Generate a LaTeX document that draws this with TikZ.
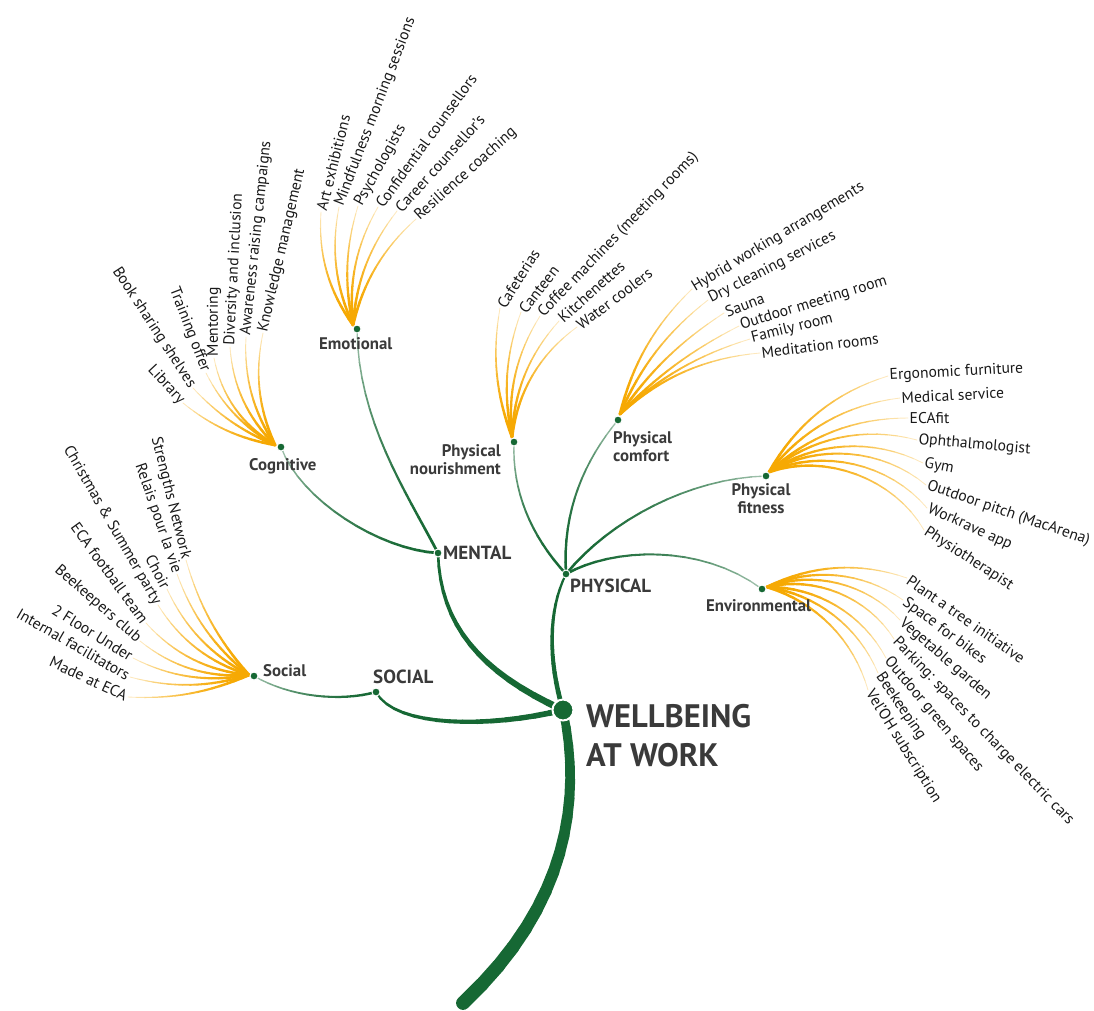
\documentclass[tikz,border=0pt]{standalone}
\usepackage{fontspec}
\setmainfont{PT Sans}
\usetikzlibrary{calc}
\definecolor{grn}{RGB}{22,104,52}
\definecolor{fanY}{RGB}{246,168,0}
\definecolor{lbl}{RGB}{58,58,58}
\definecolor{leafc}{RGB}{25,25,25}
% tapered, fading cubic curve: start, c1, c2, end, w0, w1, colour, end-percent
\newcommand\wbtaper[8]{%
  \coordinate (bp0) at #1;
  \coordinate (bp1) at #2;
  \coordinate (bp2) at #3;
  \coordinate (bp3) at #4;
  \foreach \k in {0,...,16}{%
    \pgfmathsetmacro\tqt{\k/16}%
    \coordinate (tq\k) at ($ {(1-\tqt)^3}*(bp0) + {3*(1-\tqt)^2*\tqt}*(bp1) + {3*(1-\tqt)*\tqt^2}*(bp2) + {\tqt^3}*(bp3) $);
  }%
  \foreach \k [remember=\k as \kp (initially 0)] in {1,...,16}{%
    \pgfmathsetmacro\tqw{#5+(#6-#5)*(\k-0.5)/16}%
    \pgfmathtruncatemacro\tqc{100-(100-#8)*((\k-0.5)/16)^2}%
    \draw[line width=\tqw pt, draw={#7!\tqc!white}, line cap=round] (tq\kp) -- (tq\k);
  }%
}
% fan line: base, end anchor, travel angle at end
\newcommand\wbfan[3]{%
  \path let \p1=(#1), \p2=(#2), \n1={atan2(\y2-\y1,\x2-\x1)}, \n2={veclen(\x2-\x1,\y2-\y1)} in
    coordinate (fc1) at ($(\p1)+({2*\n1-(#3)}:{0.36*\n2})$)
    coordinate (fc2) at ($(\p2)+({(#3)+180}:{0.36*\n2})$);
  \wbtaper{(#1)}{(fc1)}{(fc2)}{(#2)}{2.9}{0.8}{fanY}{22}%
}
\begin{document}
\begin{tikzpicture}[x=1pt,y=1pt,
  leaf/.style={font=\fontsize{15.6}{18}\selectfont, text=leafc, inner sep=1.5pt},
  lr/.style={leaf, anchor=west},
  ll/.style={leaf, anchor=east},
  subl/.style={font=\fontsize{16.8}{18.5}\selectfont\bfseries, text=lbl, inner sep=0pt},
  mainl/.style={font=\fontsize{19}{21}\selectfont\bfseries, text=lbl, inner sep=0pt},
  bigl/.style={font=\fontsize{32.5}{39}\selectfont\bfseries, text=lbl, inner sep=0pt},
  gdot/.style={circle, fill=grn, draw=white, line width=1pt, minimum size=8pt, inner sep=0pt},
  hub/.style={circle, fill=grn, draw=white, line width=2pt, minimum size=21pt, inner sep=0pt}]
\useasboundingbox (0,0) rectangle (1094,-1010);

% hub positions
\coordinate (wb) at (563,-710);
\coordinate (root) at (463,-1003);
\coordinate (mental) at (438,-553);
\coordinate (physical) at (566,-574);
\coordinate (social) at (376,-692);
\coordinate (emo) at (357,-329);
\coordinate (cog) at (281,-447);
\coordinate (soc) at (254,-676);
\coordinate (nour) at (514,-442);
\coordinate (comf) at (618,-420);
\coordinate (fit) at (766,-476);
\coordinate (env) at (762,-589);
% fan bases
\coordinate (eb) at (353,-325);
\coordinate (cb) at (275,-445);
\coordinate (sb) at (249,-675);
\coordinate (nb) at (512,-437);
\coordinate (cfb) at (620,-414);
\coordinate (fb) at (769,-472);
\coordinate (vb) at (767,-587);

% green branches
\wbtaper{(wb)}{(582,-800)}{(568,-905)}{(root)}{8.5}{14}{grn}{100}
\wbtaper{(wb)}{(480,-672)}{(440,-625)}{(mental)}{7}{2.5}{grn}{100}
\wbtaper{(wb)}{(490,-728)}{(395,-728)}{(social)}{6}{2}{grn}{100}
\wbtaper{(wb)}{(548,-660)}{(548,-610)}{(physical)}{5}{2}{grn}{100}
\wbtaper{(mental)}{(380,-550)}{(300,-500)}{(cog)}{2.8}{1.3}{grn}{40}
\wbtaper{(mental)}{(405,-490)}{(358,-420)}{(emo)}{2.8}{1.3}{grn}{40}
\wbtaper{(social)}{(340,-702)}{(290,-697)}{(soc)}{2.6}{1.3}{grn}{40}
\wbtaper{(physical)}{(530,-535)}{(512,-490)}{(nour)}{2.6}{1.3}{grn}{40}
\wbtaper{(physical)}{(562,-510)}{(585,-460)}{(comf)}{2.6}{1.3}{grn}{40}
\wbtaper{(physical)}{(610,-520)}{(690,-478)}{(fit)}{2.6}{1.3}{grn}{40}
\wbtaper{(physical)}{(612,-548)}{(700,-543)}{(env)}{2.6}{1.3}{grn}{40}

% Emotional leaves
\node[lr, rotate=76] (e1) at (321,-212) {Art exhibitions};
\node[lr, rotate=69] (e2) at (339,-207) {Mindfulness morning sessions};
\node[lr, rotate=61] (e3) at (358,-206) {Psychologists};
\node[lr, rotate=54] (e4) at (378,-207) {Confidential counsellors};
\node[lr, rotate=48] (e5) at (397,-211) {Career counsellor’s};
\node[lr, rotate=42] (e6) at (416,-219) {Resilience coaching};
\wbfan{eb}{e1.west}{86}
\wbfan{eb}{e2.west}{79}
\wbfan{eb}{e3.west}{73}
\wbfan{eb}{e4.west}{60}
\wbfan{eb}{e5.west}{52}
\wbfan{eb}{e6.west}{42}

% Cognitive leaves
\node[ll, rotate=-47] (c1) at (183,-403) {Library};
\node[ll, rotate=-57] (c2) at (193,-388) {Book sharing shelves};
\node[ll, rotate=-69] (c3) at (206,-373) {Training offer};
\node[lr, rotate=90] (c4) at (214,-358) {Mentoring};
\node[lr, rotate=87] (c5) at (230,-347) {Diversity and inclusion};
\node[lr, rotate=84] (c6) at (246,-337) {Awareness raising campaigns};
\node[lr, rotate=77] (c7) at (263,-333) {Knowledge management};
\wbfan{cb}{c1.east}{141}
\wbfan{cb}{c2.east}{133}
\wbfan{cb}{c3.east}{117}
\wbfan{cb}{c4.west}{101}
\wbfan{cb}{c5.west}{94}
\wbfan{cb}{c6.west}{87}
\wbfan{cb}{c7.west}{78}

% Social leaves
\node[ll, rotate=-76] (s1) at (186,-560) {Strengths Network};
\node[ll, rotate=-71] (s2) at (177,-574) {Relais pour la vie};
\node[ll, rotate=-62] (s3) at (167,-589) {Choir};
\node[ll, rotate=-60] (s4) at (158,-605) {Christmas \& Summer party};
\node[ll, rotate=-54] (s5) at (146,-623) {ECA football team};
\node[ll, rotate=-41] (s6) at (140,-641) {Beekeepers club};
\node[ll, rotate=-32] (s7) at (133,-658) {2 Floor Under};
\node[ll, rotate=-30] (s8) at (130,-677) {Internal facilitators};
\node[ll, rotate=-25] (s9) at (128,-697) {Made at ECA};
\wbfan{sb}{s1.east}{106}
\wbfan{sb}{s2.east}{110}
\wbfan{sb}{s3.east}{115}
\wbfan{sb}{s4.east}{122}
\wbfan{sb}{s5.east}{132}
\wbfan{sb}{s6.east}{141}
\wbfan{sb}{s7.east}{153}
\wbfan{sb}{s8.east}{165}
\wbfan{sb}{s9.east}{177}

% Physical nourishment leaves
\node[lr, rotate=58] (n1) at (500,-308) {Cafeterias};
\node[lr, rotate=52] (n2) at (521,-312) {Canteen};
\node[lr, rotate=46] (n3) at (540,-316) {Coffee machines (meeting rooms)};
\node[lr, rotate=42] (n4) at (559,-321) {Kitchenettes};
\node[lr, rotate=37] (n5) at (577,-327) {Water coolers};
\wbfan{nb}{n1.west}{80}
\wbfan{nb}{n2.west}{70}
\wbfan{nb}{n3.west}{58}
\wbfan{nb}{n4.west}{48}
\wbfan{nb}{n5.west}{36}

% Physical comfort leaves
\node[lr, rotate=31] (f1) at (692,-289) {Hybrid working arrangements};
\node[lr, rotate=27] (f2) at (708,-300) {Dry cleaning services};
\node[lr, rotate=21] (f3) at (724,-313) {Sauna};
\node[lr, rotate=17] (f4) at (739,-326) {Outdoor meeting room};
\node[lr, rotate=14] (f5) at (750,-339) {Family room};
\node[lr, rotate=7] (f6) at (760,-353) {Meditation rooms};
\wbfan{cfb}{f1.west}{44}
\wbfan{cfb}{f2.west}{38}
\wbfan{cfb}{f3.west}{33}
\wbfan{cfb}{f4.west}{27}
\wbfan{cfb}{f5.west}{17}
\wbfan{cfb}{f6.west}{5}

% Physical fitness leaves
\node[lr, rotate=3] (p1) at (888,-376) {Ergonomic furniture};
\node[lr, rotate=3] (p2) at (900,-398) {Medical service};
\node[lr, rotate=0] (p3) at (908,-418) {ECAfit};
\node[lr, rotate=-5] (p4) at (917,-440) {Ophthalmologist};
\node[lr, rotate=-11] (p5) at (923,-463) {Gym};
\node[lr, rotate=-19] (p6) at (926,-485) {Outdoor pitch (MacArena)};
\node[lr, rotate=-24] (p7) at (927,-508) {Workrave app};
\node[lr, rotate=-33] (p8) at (924,-530) {Physiotherapist};
\wbfan{fb}{p1.west}{17}
\wbfan{fb}{p2.west}{7}
\wbfan{fb}{p3.west}{0}
\wbfan{fb}{p4.west}{-15}
\wbfan{fb}{p5.west}{-27}
\wbfan{fb}{p6.west}{-40}
\wbfan{fb}{p7.west}{-50}
\wbfan{fb}{p8.west}{-60}

% Environmental leaves
\node[lr, rotate=-35] (v1) at (907,-578) {Plant a tree initiative};
\node[lr, rotate=-37] (v2) at (903,-600) {Space for bikes};
\node[lr, rotate=-41] (v3) at (900,-620) {Vegetable garden};
\node[lr, rotate=-46] (v4) at (894,-639) {Parking: spaces to charge electric cars};
\node[lr, rotate=-50] (v5) at (886,-658) {Outdoor green spaces};
\node[lr, rotate=-56] (v6) at (878,-673) {Beekeeping};
\node[lr, rotate=-58] (v7) at (868,-690) {Vel’OH subscription};
\wbfan{vb}{v1.west}{-19}
\wbfan{vb}{v2.west}{-35}
\wbfan{vb}{v3.west}{-48}
\wbfan{vb}{v4.west}{-58}
\wbfan{vb}{v5.west}{-62}
\wbfan{vb}{v6.west}{-67}
\wbfan{vb}{v7.west}{-74}

% dots
\node[hub] (dwb) at (wb) {};
\node[gdot] (dmental) at (mental) {};
\node[gdot] (dphysical) at (physical) {};
\node[gdot] (dsocial) at (social) {};
\node[gdot] (demo) at (emo) {};
\node[gdot] (dcog) at (cog) {};
\node[gdot] (dsoc) at (soc) {};
\node[gdot] (dnour) at (nour) {};
\node[gdot] (dcomf) at (comf) {};
\node[gdot] (dfit) at (fit) {};
\node[gdot] (denv) at (env) {};

% labels
\node[bigl, anchor=base west] (wb1) at (586,-727) {WELLBEING};
\node[bigl, anchor=base west] (wb2) at (586,-766) {AT WORK};
\node[mainl, anchor=base west] (lmental) at (443,-559) {MENTAL};
\node[mainl, anchor=base west] (lphys) at (570,-592) {PHYSICAL};
\node[mainl, anchor=base west] (lsocial) at (373,-683) {SOCIAL};
\node[subl, anchor=base west] (lemo) at (319,-349) {Emotional};
\node[subl, anchor=base west] (lcog) at (249,-470) {Cognitive};
\node[subl, anchor=base west] (lsoc) at (263,-676) {Social};
\node[subl, align=right, anchor=north east] (lnour) at (501,-444) {Physical\\nourishment};
\node[subl, align=left, anchor=north west] (lcomf) at (613,-431) {Physical\\comfort};
\node[subl, align=center, anchor=north] (lfit) at (761,-483) {Physical\\fitness};
\node[subl, anchor=base west] (lenv) at (706,-611) {Environmental};
\end{tikzpicture}
\end{document}
